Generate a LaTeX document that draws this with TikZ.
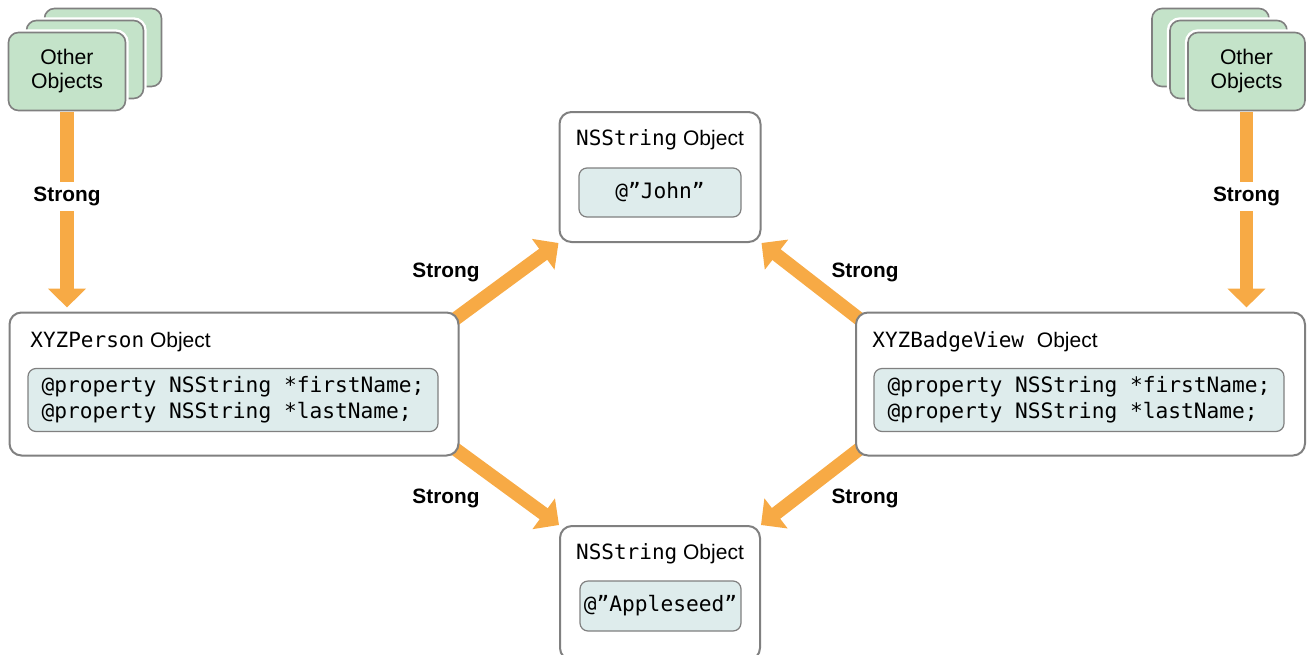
\documentclass[tikz,border=0pt]{standalone}
\usepackage{fontspec}
\setmainfont{Liberation Sans}
\setsansfont{Liberation Sans}
\setmonofont{DejaVu Sans Mono}
\usetikzlibrary{calc, arrows.meta}

\definecolor{strongorange}{RGB}{247,170,69}
\definecolor{otherfill}{RGB}{196,227,201}
\definecolor{boxgray}{RGB}{128,128,128}
\definecolor{codefill}{RGB}{222,236,236}

\pgfdeclarelayer{background}
\pgfsetlayers{background,main}

\begin{document}
\begin{tikzpicture}[x=0.5pt, y=-0.5pt,
  objbox/.style={draw=boxgray, line width=1pt, fill=white, rounded corners=6pt, inner sep=0pt},
  codebox/.style={draw=boxgray, line width=0.6pt, fill=codefill, rounded corners=4pt, inner sep=0pt,
    font=\ttfamily\fontsize{10.6}{13}\selectfont, align=left},
  otherbox/.style={draw=boxgray, line width=0.8pt, fill=otherfill, rounded corners=5pt,
    minimum width=58.5pt, minimum height=39pt, inner sep=0pt, align=center,
    font=\fontsize{10.6}{12}\selectfont, preaction={draw=white, line width=3.2pt}},
  strongarrow/.style={draw=strongorange, line width=6.8pt, -{Triangle[width=18.5pt, length=9.5pt]}},
  strong/.style={font=\bfseries\fontsize{10.4}{12}\selectfont, inner sep=2.5pt},
  title/.style={font=\fontsize{10.5}{12}\selectfont, inner sep=0pt}]
  \clip (0,0) rectangle (1307,654);

  % other objects, stacked
  \coordinate (otherLpos) at (67,71.5);
  \coordinate (otherRpos) at (1246.5,71.5);
  \foreach \i/\n in {2/back, 1/mid} {
    \node[otherbox] (otherL\n) at ($(otherLpos)+(\i*18,-\i*12)$) {};
    \node[otherbox] (otherR\n) at ($(otherRpos)+(-\i*18,-\i*12)$) {};
  }
  \node[otherbox] (otherL) at (otherLpos) {Other\\Objects};
  \node[otherbox] (otherR) at (otherRpos) {Other\\Objects};

  % objects
  \node[objbox, minimum width=224.5pt, minimum height=71.5pt] (person) at (234,384) {};
  \node[objbox, minimum width=224.5pt, minimum height=71.5pt] (badge) at (1080.5,384) {};
  \node[objbox, minimum width=100.5pt, minimum height=65pt] (john) at (660,177) {};
  \node[objbox, minimum width=100pt, minimum height=67pt] (apple) at (660,593) {};

  \node[title, anchor=base west] (personTitle) at (30,347) {\texttt{XYZPerson} Object};
  \node[title, anchor=base west] (badgeTitle) at (872,347) {\texttt{XYZBadgeView}\hspace{3.5pt} Object};
  \node[title, anchor=base] (johnTitle) at (660,145) {\texttt{NSString} Object};
  \node[title, anchor=base] (appleTitle) at (660,559) {\texttt{NSString} Object};

  \node[codebox, minimum width=205pt, minimum height=31.5pt] (personCode) at (233,400)
    {@property NSString *firstName;\\@property NSString *lastName;};
  \node[codebox, minimum width=205pt, minimum height=31.5pt] (badgeCode) at (1079,400)
    {@property NSString *firstName;\\@property NSString *lastName;};
  \node[codebox, minimum width=81pt, minimum height=24.5pt] (johnCode) at (660,192.5) {@”John”};
  \node[codebox, minimum width=80.5pt, minimum height=25pt] (appleCode) at (660.5,606) {@”Appleseed”};

  % strong references
  \draw[strongarrow] ($(otherL.south)+(0,1)$) -- ($(person.north -| otherL.south)+(0,-4)$)
    node[strong, fill=white, pos=0.43] (strongL) {Strong};
  \draw[strongarrow] ($(otherR.south)+(0,1)$) -- ($(badge.north -| otherR.south)+(0,-4)$)
    node[strong, fill=white, pos=0.43] (strongR) {Strong};
  \begin{pgfonlayer}{background}
    \draw[strongarrow] ($(person.north east)+(-5,8)$) -- (john.south west);
    \draw[strongarrow] ($(person.south east)+(-5,-8)$) -- (apple.north west);
    \draw[strongarrow] ($(badge.north west)+(5,8)$) -- (john.south east);
    \draw[strongarrow] ($(badge.south west)+(5,-8)$) -- (apple.north east);
  \end{pgfonlayer}
  \node[strong] (strongPJ) at (446,272) {Strong};
  \node[strong] (strongPA) at (446,498) {Strong};
  \node[strong] (strongBJ) at (865,272) {Strong};
  \node[strong] (strongBA) at (865,498) {Strong};
\end{tikzpicture}
\end{document}
